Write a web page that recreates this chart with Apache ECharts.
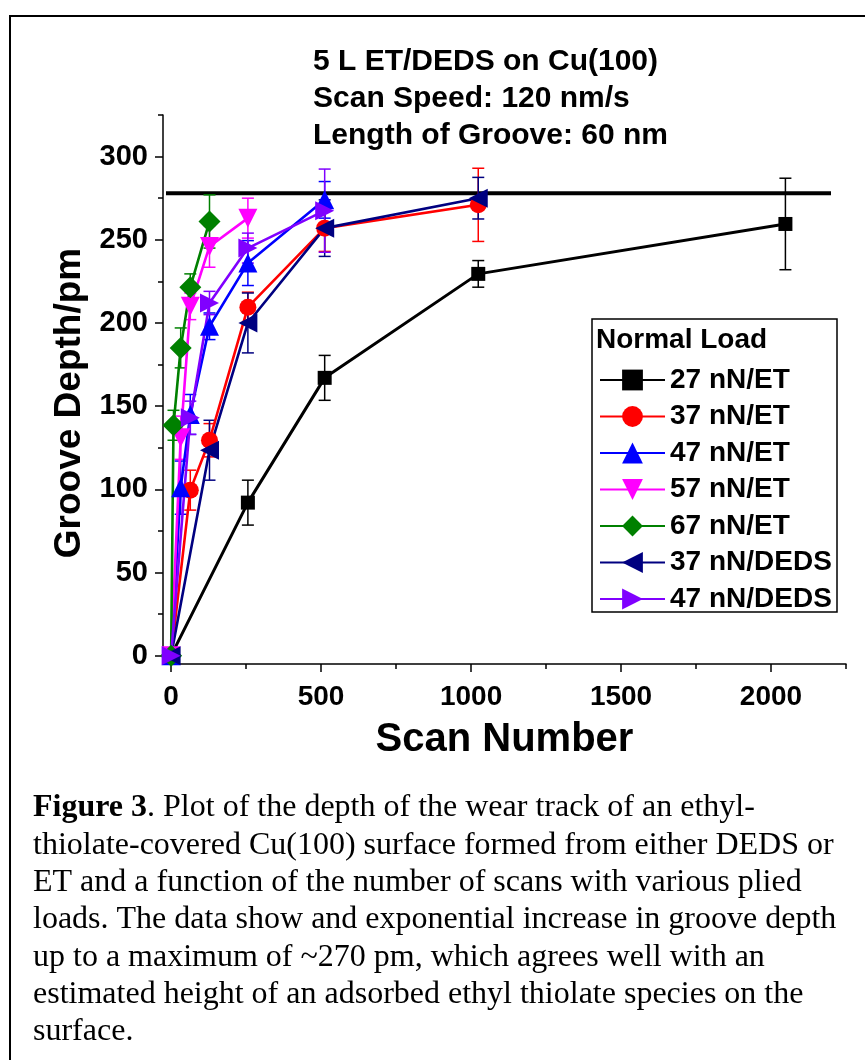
<!DOCTYPE html>
<html><head><meta charset="utf-8">
<script src="https://cdn.jsdelivr.net/npm/echarts@6/dist/echarts.min.js"></script>
<style>html,body{margin:0;padding:0;background:#fff}#c{width:865px;height:1060px}</style>
</head><body><div id="c"></div>
<script>
// ---- data ----
const seriesNames = ['27 nN/ET','37 nN/ET','47 nN/ET','57 nN/ET','67 nN/ET','37 nN/DEDS','47 nN/DEDS'];
const scans27ET = [0,256,512,1024,2048];
const depth27ET = [0,92,167,229.5,259.5];
const err27ET   = [2,13.5,13.5,8,27.5];
const scans37ET = [0,64,128,256,512,1024];
const depth37ET = [0,99.5,129.5,209.5,257,271];
const err37ET   = [2,12,10,9,14,22];
const scans47ET = [0,32,64,128,256,512];
const depth47ET = [0,101,145,198,236,274];
const err47ET   = [2,16,12,8,13.5,11];
const scans57ET = [0,32,64,128,256];
const depth57ET = [0,131,210,246,263];
const err57ET   = [2,13,8,12.5,12];
const scans67ET = [0,8,32,64,128];
const depth67ET = [0,138.5,185,221.5,261];
const err67ET   = [2,9,12,8,16];
const scans37DEDS = [0,128,256,512,1024];
const depth37DEDS = [0,123.5,200,257,275];
const err37DEDS   = [2,18,18,17,12.5];
const scans47DEDS = [0,64,128,256,512];
const depth47DEDS = [0,143,212,245,267.5];
const err47DEDS   = [2,10,7,9,25];
const refLineX = [-17,2200];
const refLineY = [278,278];
const xTickLabels = [0,500,1000,1500,2000];
const xMinorTicks = [250,750,1250,1750,2250];
const yTickLabels = [0,50,100,150,200,250,300];
const yMinorTicks = [25,75,125,175,225,275,325];
const titleLines = ['5 L ET/DEDS on Cu(100)','Scan Speed: 120 nm/s','Length of Groove: 60 nm'];
const captionLines = [
  '{b|Figure 3}. Plot of the depth of the wear track of an ethyl-',
  'thiolate-covered Cu(100) surface formed from either DEDS or',
  'ET and a function of the number of scans with various plied',
  'loads. The data show and exponential increase in groove depth',
  'up to a maximum of ~270 pm, which agrees well with an',
  'estimated height of an adsorbed ethyl thiolate species on the',
  'surface.'
];

// ---- styling ----
const SANS = 'Liberation Sans, Arial, sans-serif';
const SERIF = 'Liberation Serif, Times New Roman, serif';
const styles = [
  {color:'#000000', symbol:'rect', size:14, rotate:0},
  {color:'#ff0000', symbol:'circle', size:17, rotate:0},
  {color:'#0000ff', symbol:'triangle', size:19, rotate:0},
  {color:'#ff00ff', symbol:'triangle', size:19, rotate:180},
  {color:'#008000', symbol:'diamond', size:[22,22], rotate:0},
  {color:'#000080', symbol:'triangle', size:19, rotate:90},
  {color:'#8000ff', symbol:'triangle', size:19, rotate:-90}
];
const allData = [
  [scans27ET, depth27ET, err27ET],
  [scans37ET, depth37ET, err37ET],
  [scans47ET, depth47ET, err47ET],
  [scans57ET, depth57ET, err57ET],
  [scans67ET, depth67ET, err67ET],
  [scans37DEDS, depth37DEDS, err37DEDS],
  [scans47DEDS, depth47DEDS, err47DEDS]
];

const series = [];
series.push({
  type:'line', name:'ref', data: refLineX.map((x,i)=>[x, refLineY[i]]),
  symbol:'none', lineStyle:{color:'#000', width:4}, silent:true, z:1
});
allData.forEach((d,k)=>{
  const st = styles[k];
  series.push({
    type:'custom', name: seriesNames[k]+' err', z:2,
    data: d[0].map((x,i)=>[x, d[1][i]-d[2][i], d[1][i]+d[2][i]]),
    renderItem: function(params, api){
      const x = api.value(0);
      const p1 = api.coord([x, api.value(2)]);
      const p2 = api.coord([x, api.value(1)]);
      const hw = 6;
      const ls = {stroke: st.color, lineWidth: 1.5};
      return {type:'group', children:[
        {type:'line', shape:{x1:p1[0],y1:p1[1],x2:p2[0],y2:p2[1]}, style:ls},
        {type:'line', shape:{x1:p1[0]-hw,y1:p1[1],x2:p1[0]+hw,y2:p1[1]}, style:ls},
        {type:'line', shape:{x1:p2[0]-hw,y1:p2[1],x2:p2[0]+hw,y2:p2[1]}, style:ls}
      ]};
    },
    silent:true
  });
  series.push({
    type:'line', name: seriesNames[k], z:3,
    data: d[0].map((x,i)=>[x, d[1][i]]),
    symbol: st.symbol, symbolSize: st.size, symbolRotate: st.rotate,
    showAllSymbol:true,
    lineStyle:{color: st.color, width: k===0 ? 3 : 2.6},
    itemStyle:{color: st.color, borderWidth:0},
    emphasis:{disabled:true}
  });
});

const chart = echarts.init(document.getElementById('c'), null, {renderer:'canvas'});
const labelStyle = {fontSize:28, fontWeight:'bold', color:'#000', fontFamily:SANS, formatter: v => String(v)};
const option = {
  animation:false,
  backgroundColor:'#fff',
  grid:{left:163, right:19, top:115, bottom:396, containLabel:false},
  xAxis:[{
    type:'value', min:-27, max:2250,
    axisLine:{onZero:false, lineStyle:{color:'#000', width:1.5}},
    axisTick:{customValues:xTickLabels, length:8, lineStyle:{color:'#000', width:1.5}},
    axisLabel:Object.assign({customValues:xTickLabels, margin:19}, labelStyle),
    splitLine:{show:false},
    name:'Scan Number', nameLocation:'middle', nameGap:56,
    nameTextStyle:{fontSize:40, fontWeight:'bold', color:'#000', fontFamily:SANS}
  },{
    type:'value', min:-27, max:2250, position:'bottom',
    axisLine:{show:false, onZero:false},
    axisTick:{customValues:xMinorTicks, length:5, lineStyle:{color:'#000', width:1.5}},
    axisLabel:{show:false}, splitLine:{show:false}
  }],
  yAxis:[{
    type:'value', min:-5, max:325,
    axisLine:{onZero:false, lineStyle:{color:'#000', width:1.5}},
    axisTick:{customValues:yTickLabels, length:8, lineStyle:{color:'#000', width:1.5}},
    axisLabel:Object.assign({customValues:yTickLabels, margin:15}, labelStyle, {fontSize:29}),
    splitLine:{show:false}
  },{
    type:'value', min:-5, max:325, position:'left',
    axisLine:{show:false, onZero:false},
    axisTick:{customValues:yMinorTicks, length:5, lineStyle:{color:'#000', width:1.5}},
    axisLabel:{show:false}, splitLine:{show:false}
  }],
  legend:{
    data: seriesNames, orient:'vertical', left:594, top:361,
    itemWidth:65, itemHeight:26, itemGap:8.5,
    textStyle:{fontSize:28, fontWeight:'bold', color:'#000', fontFamily:SANS, lineHeight:28},
    selectedMode:false
  },
  graphic:[
    {type:'rect', shape:{x:10, y:16, width:900, height:1100}, style:{fill:'none', stroke:'#000', lineWidth:2}, silent:true},
    {type:'rect', shape:{x:592, y:319, width:245, height:293}, style:{fill:'none', stroke:'#000', lineWidth:1.5}, silent:true, z:10},
    {type:'text', x:596, y:340, style:{text:'Normal Load', font:'bold 28px '+SANS, fill:'#000', verticalAlign:'middle'}, z:10},
    {type:'text', x:70, y:403, rotation:Math.PI/2, style:{text:'Groove Depth/pm', font:'bold 37px '+SANS, fill:'#000', align:'center', verticalAlign:'middle'}},
  ].concat(titleLines.map((t,i)=>({type:'text', x:313, y:62+i*37, style:{text:t, font:'bold 30px '+SANS, fill:'#000', verticalAlign:'middle'}})))
   .concat(captionLines.map((t,i)=>({type:'text', x:33, y:808+i*37.3, style:{text:t, fontSize:32, fontFamily:SERIF, fill:'#000', verticalAlign:'middle', rich:{b:{fontSize:32, fontFamily:SERIF, fontWeight:'bold', fill:'#000'}}}}))),
  series: series
};
chart.setOption(option);
</script>
</body></html>
